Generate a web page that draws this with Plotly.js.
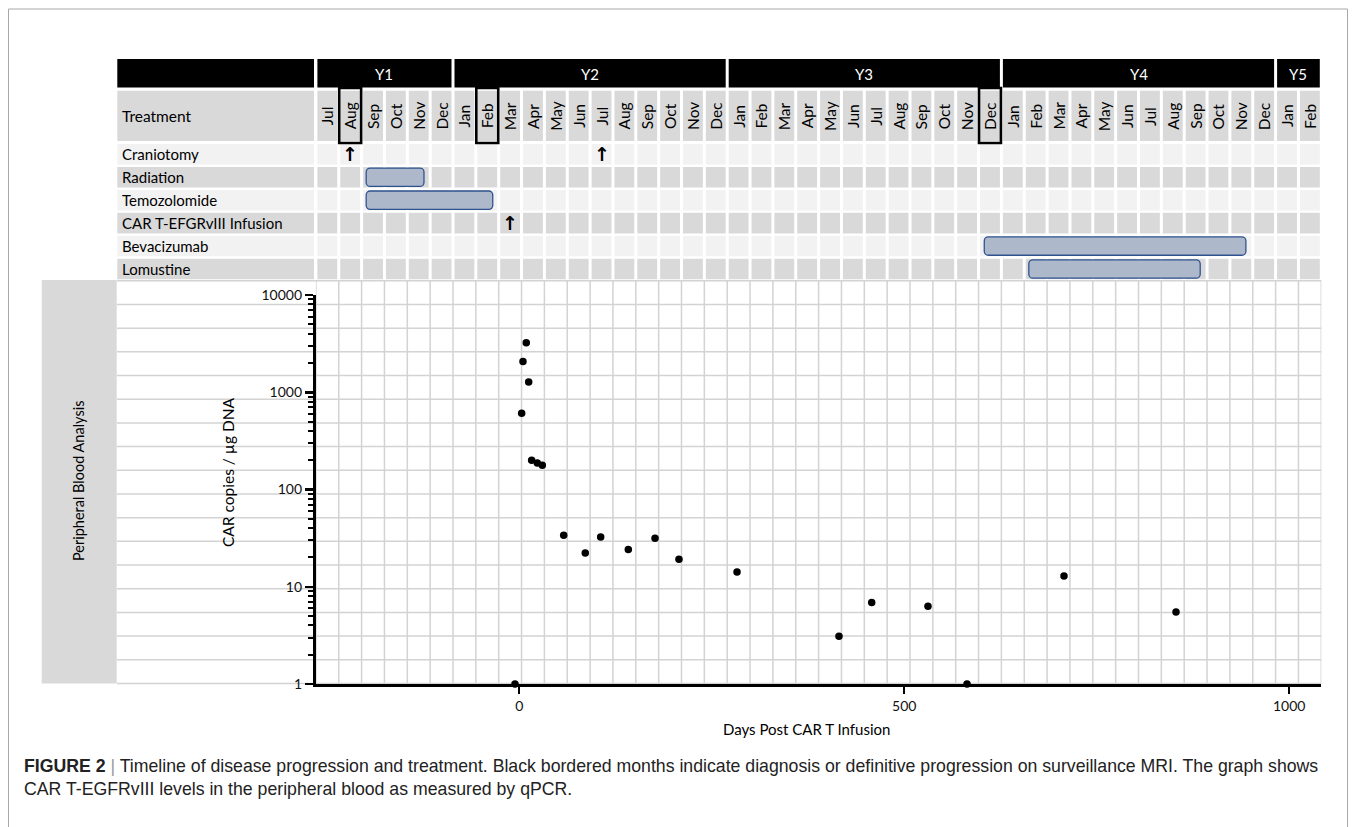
<!DOCTYPE html>
<html>
<head>
<meta charset="utf-8">
<script src="https://cdn.plot.ly/plotly-3.0.1.min.js"></script>
<style>html,body{margin:0;padding:0;background:#fff;}#chart{width:1356px;height:827px;}</style>
</head>
<body>
<div id="chart"></div>
<script>
// ---------------- DATA ----------------
const years = ['Y1', 'Y2', 'Y3', 'Y4', 'Y5'];
const monthsPerYear = [6, 12, 12, 12, 2];
const months = ['Jul','Aug','Sep','Oct','Nov','Dec',
  'Jan','Feb','Mar','Apr','May','Jun','Jul','Aug','Sep','Oct','Nov','Dec',
  'Jan','Feb','Mar','Apr','May','Jun','Jul','Aug','Sep','Oct','Nov','Dec',
  'Jan','Feb','Mar','Apr','May','Jun','Jul','Aug','Sep','Oct','Nov','Dec',
  'Jan','Feb'];
// black-bordered months (index into months): Aug Y1, Feb Y2, Dec Y3
const borderedMonths = [1, 7, 29];
const treatments = ['Craniotomy', 'Radiation', 'Temozolomide', 'CAR T-EFGRvIII Infusion', 'Bevacizumab', 'Lomustine'];
// treatment bars, in month-column units from the first month (Jul Y1)
const barTreatments = ['Radiation', 'Temozolomide', 'Bevacizumab', 'Lomustine'];
const barStart = [2.2, 2.2, 29.25, 31.2];
const barEnd = [4.73, 7.74, 40.7, 38.7];
// single events (arrows)
const eventTreatments = ['Craniotomy', 'Craniotomy', 'CAR T-EFGRvIII Infusion'];
const eventMonths = [1, 12, 8];
// peripheral blood qPCR
const days = [-5.5, 3.2, 4.9, 9.2, 12.3, 16.2, 23.5, 30, 57.8, 85.8, 105.8, 141.7, 176.4, 207.5, 282.9, 415.3, 457.8, 530.9, 581.6, 707.5, 853];
const copies = [1, 610, 2070, 3221, 1271, 200, 187, 178, 33.9, 22.3, 32.5, 24.1, 31.5, 19.2, 14.2, 3.1, 6.9, 6.3, 1, 12.9, 5.5];
const yTickVals = [1, 10, 100, 1000, 10000];
const yTickText = ['1', '10', '100', '1000', '10000'];
const xTickVals = [0, 500, 1000];

// ---------------- GEOMETRY ----------------
const W = 1356, H = 827;
const px = p => p / W;
const py = p => 1 - p / H;
const COL0 = 315.9, COLW = 22.85, NCOL = months.length;
const COL1 = COL0 + NCOL * COLW;
const DAY0 = 519.2, PXDAY = 0.77;
const ROW0 = 154.3, ROWP = 22.94;
const g = 1.5 / COLW;       // half white gap, column units
const rh = 0.449;           // half row height, row units
const LAB0 = 117.3, LAB1 = 314;
const FONT = 'Lato, "Open Sans", sans-serif';
const CAPFONT = '"Liberation Sans", Arial, sans-serif';

const shapes = [];
const ann = [];
function rectShape(xref, yref, x0, x1, y0, y1, fill, extra) {
  shapes.push(Object.assign({type: 'rect', xref, yref, x0, x1, y0, y1, fillcolor: fill, line: {width: 0}, layer: 'below'}, extra || {}));
}
function lineShape(xref, yref, x0, x1, y0, y1, color, width, layer) {
  shapes.push({type: 'line', xref, yref, x0, x1, y0, y1, line: {color, width}, layer: layer || 'below'});
}
function text(xref, yref, x, y, t, opts) {
  ann.push(Object.assign({xref, yref, x, y, text: t, showarrow: false, xanchor: 'center', yanchor: 'middle',
    font: {family: FONT, size: 15, color: '#000'}}, opts || {}));
}

// outer frame
lineShape('paper', 'paper', px(8.5), px(8.5), py(9), py(827), '#a8a8a8', 1);
lineShape('paper', 'paper', px(8.5), px(1347.5), py(9), py(9), '#a8a8a8', 1);
lineShape('paper', 'paper', px(1347.5), px(1347.5), py(9), py(827), '#a8a8a8', 1);

// year header
rectShape('paper', 'paper', px(LAB0), px(LAB1), py(87.5), py(59), '#000');
let s = 0;
years.forEach((yr, i) => {
  const n = monthsPerYear[i];
  rectShape('x2', 'paper', s + g, s + n - g, py(87.5), py(59), '#000');
  text('x2', 'paper', s + n / 2, py(73.5), yr, {font: {family: FONT, size: 15, color: '#fff'}});
  s += n;
});

// month row
rectShape('paper', 'paper', px(LAB0), px(LAB1), py(141), py(90.7), '#d9d9d9');
text('paper', 'paper', px(120), py(116), 'Treatment', {xanchor: 'left', font: {family: FONT, size: 15.5, color: '#000'}});
months.forEach((m, k) => {
  rectShape('x2', 'paper', k + g, k + 1 - g, py(141), py(90.7), '#d9d9d9');
  text('x2', 'paper', k + 0.5, py(116), m, {textangle: -90, font: {family: FONT, size: 15.5, color: '#000'}});
});

// treatment rows
treatments.forEach((t, i) => {
  const col = i % 2 === 0 ? '#f2f2f2' : '#d9d9d9';
  rectShape('paper', 'y2', px(LAB0), px(LAB1), i - rh, i + rh, col);
  text('paper', 'y2', px(120), i, t, {xanchor: 'left'});
  for (let k = 0; k < NCOL; k++) rectShape('x2', 'y2', k + g, k + 1 - g, i - rh, i + rh, col);
});

// bordered months
borderedMonths.forEach(k => {
  shapes.push({type: 'rect', xref: 'x2', yref: 'paper', x0: k + 0.02, x1: k + 0.98, y0: py(143), y1: py(88),
    line: {color: '#000', width: 2.6}, fillcolor: 'rgba(0,0,0,0)', layer: 'above'});
});

// event arrows
eventTreatments.forEach((t, i) => {
  text('x2', 'y2', eventMonths[i] + 0.5, treatments.indexOf(t) - 0.02, '<b>↑</b>',
    {font: {family: 'DejaVu Sans', size: 19, color: '#000'}});
});

// plot region: side panel + table grid
rectShape('paper', 'paper', px(41.7), px(116.7), py(683.5), py(280), '#d9d9d9');
text('paper', 'paper', px(78), py(481), 'Peripheral Blood Analysis', {textangle: -90, font: {family: FONT, size: 14.5, color: '#000'}});
const GTOP = 280.8, GBOT = 683.5, NROWG = 17;
for (let j = 0; j <= NROWG; j++) {
  const yy = GTOP + j * (GBOT - GTOP) / NROWG;
  lineShape('paper', 'paper', px(117), px(COL1), py(yy), py(yy), '#d3d3d3', 1.5);
}
for (let k = 0; k <= NCOL; k++) lineShape('x2', 'paper', k, k, py(GBOT), py(GTOP), '#d3d3d3', 1.5);

// axis titles
text('paper', 'paper', px(228), py(472), 'CAR copies / µg DNA', {textangle: -90, font: {family: FONT, size: 15.5, color: '#000'}});
text('paper', 'paper', px(806), py(729), 'Days Post CAR T Infusion', {font: {family: FONT, size: 15, color: '#000'}});

// caption
text('paper', 'paper', px(22), py(766),
  '<b>FIGURE 2</b> <span style="color:#9a9a9a">|</span> Timeline of disease progression and treatment. Black bordered months indicate diagnosis or definitive progression on surveillance MRI. The graph shows',
  {xanchor: 'left', font: {family: CAPFONT, size: 17.7, color: '#222'}});
text('paper', 'paper', px(22), py(789), 'CAR T-EGFRvIII levels in the peripheral blood as measured by qPCR.',
  {xanchor: 'left', font: {family: CAPFONT, size: 17.7, color: '#222'}});

// minor log ticks
const minorVals = [];
for (let d = 0; d < 4; d++) for (let m = 2; m <= 9; m++) minorVals.push(m * Math.pow(10, d));

const traces = [
  {
    type: 'bar', orientation: 'h', xaxis: 'x2', yaxis: 'y2',
    y: barTreatments.map(t => treatments.indexOf(t)),
    base: barStart,
    x: barStart.map((b, i) => barEnd[i] - b),
    width: 0.8,
    marker: {color: '#adb9ca', line: {color: '#2f528f', width: 1.3}, cornerradius: 4},
    hoverinfo: 'skip'
  },
  {
    type: 'scatter', mode: 'markers', x: days, y: copies, xaxis: 'x', yaxis: 'y',
    marker: {color: '#000', size: 7.5}, cliponaxis: false, hoverinfo: 'x+y'
  }
];

const layout = {
  width: W, height: H,
  margin: {l: 0, r: 0, t: 0, b: 0, pad: 0},
  paper_bgcolor: '#fff', plot_bgcolor: 'rgba(0,0,0,0)',
  showlegend: false,
  font: {family: FONT, color: '#000'},
  xaxis: {
    domain: [px(COL0), px(COL1)],
    range: [(COL0 - DAY0) / PXDAY, (COL1 - DAY0) / PXDAY],
    anchor: 'y', showline: true, linecolor: '#000', linewidth: 3,
    ticks: 'outside', ticklen: 7, tickwidth: 2.5, tickcolor: '#000',
    tickmode: 'array', tickvals: xTickVals, ticktext: xTickVals.map(String),
    tickfont: {family: FONT, size: 14, color: '#111'},
    showgrid: false, zeroline: false, layer: 'below traces'
  },
  yaxis: {
    type: 'log',
    domain: [py(684), py(295)],
    range: [0, 4],
    anchor: 'x', showline: true, linecolor: '#000', linewidth: 3,
    ticks: 'outside', ticklen: 8, tickwidth: 2.5, tickcolor: '#000',
    tickmode: 'array', tickvals: yTickVals, ticktext: yTickText,
    tickfont: {family: FONT, size: 14, color: '#111'},
    minor: {tickmode: 'array', tickvals: minorVals, ticks: 'outside', ticklen: 5, tickwidth: 2, tickcolor: '#000', showgrid: false},
    showgrid: false, zeroline: false, layer: 'below traces'
  },
  xaxis2: {
    domain: [px(COL0), px(COL1)], range: [0, NCOL], anchor: 'y2',
    visible: false, showgrid: false, zeroline: false, fixedrange: true
  },
  yaxis2: {
    domain: [py(ROW0 + 5.5 * ROWP), py(ROW0 - 0.5 * ROWP)],
    range: [treatments.length - 0.5, -0.5], anchor: 'x2',
    visible: false, showgrid: false, zeroline: false, fixedrange: true
  },
  shapes: shapes,
  annotations: ann
};

Plotly.newPlot('chart', traces, layout, {displayModeBar: false, staticPlot: true});
</script>
</body>
</html>
